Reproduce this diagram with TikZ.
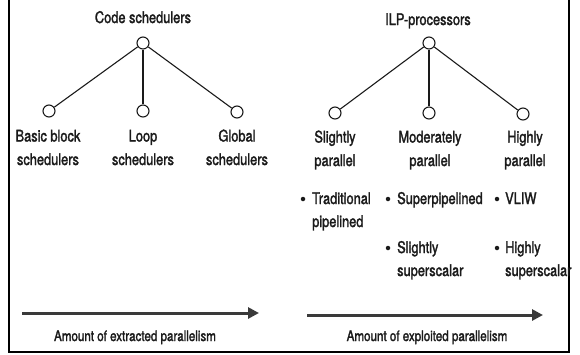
\documentclass[tikz,border=0pt]{standalone}
\usepackage{fontspec}
\setmainfont[FakeStretch=0.8,FakeBold=1.8]{TeX Gyre Heros}
\usetikzlibrary{arrows.meta}
\definecolor{ink}{HTML}{1A1A1A}
\definecolor{arrowgray}{HTML}{3A3A3A}
\begin{document}
\begin{tikzpicture}[x=1pt,y=-1pt,
  treenode/.style={circle,draw=ink,fill=white,line width=1.1pt,minimum size=12pt,inner sep=0pt},
  branch/.style={draw=ink,line width=1.1pt},
  head/.style={font=\fontsize{16}{23}\selectfont,text=ink,inner sep=0pt,anchor=base},
  leaf/.style={font=\fontsize{16}{23.5}\selectfont,text=ink,inner sep=0pt,anchor=base,align=center},
  item/.style={font=\fontsize{16}{23}\selectfont,text=ink,inner sep=0pt,anchor=base west,align=left},
  dot/.style={circle,fill=ink,inner sep=0pt,minimum size=4.5pt},
  flow/.style={draw=arrowgray,line width=3pt,-{Triangle[length=11pt,width=11pt]}},
  caption/.style={font=\fontsize{14.5}{16}\selectfont,text=ink,inner sep=0pt,anchor=base},
  frame/.style={draw=black,line width=2.5pt}]
\useasboundingbox (0,0) rectangle (580,354);

% open frame: left, bottom and right sides
\draw[frame] (9,0) -- (9,352) -- (569,352) -- (569,0);

% code scheduler taxonomy (multi-line labels are placed by their last baseline)
\node[head] (cstitle) at (143,23) {Code schedulers};
\node[treenode] (cs) at (143,43) {};
\node[treenode] (cs1) at (49,111) {};
\node[treenode] (cs2) at (143,111) {};
\node[treenode] (cs3) at (237,112) {};
\draw[branch] (cs) -- (cs1);
\draw[branch] (cs) -- (cs2);
\draw[branch] (cs) -- (cs3);
\node[leaf] (cslab1) at (48,165) {Basic block\\schedulers};
\node[leaf] (cslab2) at (143,165) {Loop\\schedulers};
\node[leaf] (cslab3) at (237,165) {Global\\schedulers};

% ILP processor taxonomy
\node[head] (iltitle) at (428,25) {ILP-processors};
\node[treenode] (ilp) at (429,43) {};
\node[treenode] (ilp1) at (335,113) {};
\node[treenode] (ilp2) at (429,113) {};
\node[treenode] (ilp3) at (523,114) {};
\draw[branch] (ilp) -- (ilp1);
\draw[branch] (ilp) -- (ilp2);
\draw[branch] (ilp) -- (ilp3);
\node[leaf] (illab1) at (335,166) {Slightly\\parallel};
\node[leaf] (illab2) at (430,166) {Moderately\\parallel};
\node[leaf] (illab3) at (525,166) {Highly\\parallel};

% processor examples
\node[dot] (b1) at (303,199) {};
\node[item] (e1) at (312,227) {Traditional\\pipelined};
\node[dot] (b2) at (388,199) {};
\node[item] (e2) at (397,204) {Superpipelined};
\node[dot] (b3) at (497,199) {};
\node[item] (e3) at (505,204) {VLIW};
\node[dot] (b4) at (388,248) {};
\node[item] (e4) at (397,276) {Slightly\\superscalar};
\node[dot] (b5) at (497,248) {};
\node[item] (e5) at (505,276) {Highly\\superscalar};

% parallelism axes
\coordinate (xs) at (22,313);
\coordinate (xe) at (259,313);
\coordinate (ps) at (307,315);
\coordinate (pe) at (543,315);
\draw[flow] (xs) -- (xe);
\draw[flow] (ps) -- (pe);
\node[caption] (xlab) at (135,341) {Amount of extracted parallelism};
\node[caption] (plab) at (427,341) {Amount of exploited parallelism};
\end{tikzpicture}
\end{document}
